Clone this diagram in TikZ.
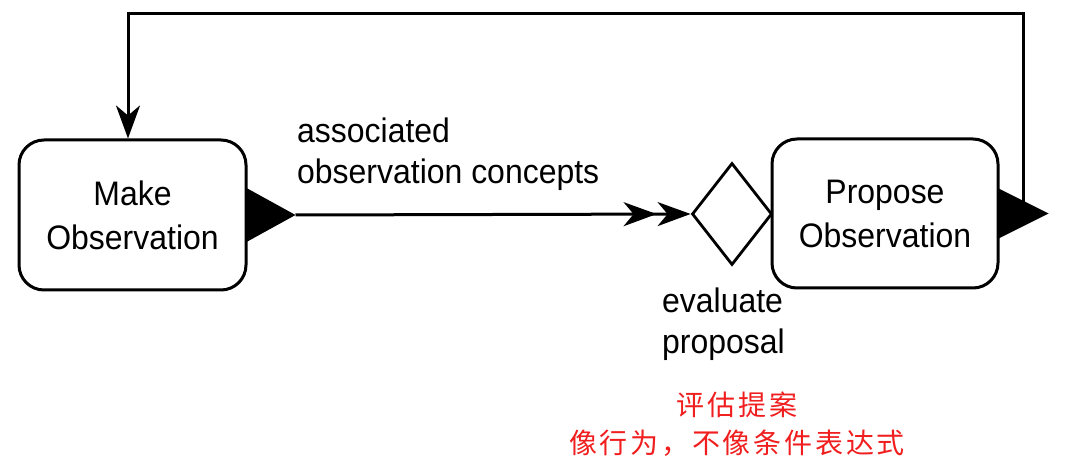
\documentclass[tikz,border=0pt]{standalone}
\usepackage{fontspec}
\setmainfont{Liberation Sans}[FakeStretch=0.94]
\newfontfamily\cjkfont[LetterSpace=10]{Noto Sans CJK SC}
\usetikzlibrary{arrows.meta,shapes.geometric,calc}
\definecolor{notered}{RGB}{240,30,30}
\tikzset{flowtip/.tip={Stealth[length=33pt,width=24pt,inset=10pt]}}
\begin{document}
\begin{tikzpicture}[x=1pt,y=-1pt,
  procbox/.style={draw, line width=3pt, rounded corners=25pt, minimum width=227pt,
    minimum height=150pt, inner sep=0pt, align=center, font=\fontsize{34}{44}\selectfont},
  decision/.style={draw, diamond, line width=2.8pt, minimum width=80pt, minimum height=102pt, inner sep=0pt},
  conn/.style={line width=3pt},
  lbl/.style={inner sep=0pt, align=left, font=\fontsize{34}{41}\selectfont},
  note/.style={inner sep=0pt, align=center, text=notered, font=\cjkfont\fontsize{28}{38}\selectfont}
]
\useasboundingbox (0,0) rectangle (1080,473);

\node[procbox] (make) at (132.5,215) {Make\\Observation};
\node[procbox, minimum width=226pt, minimum height=149pt] (prop) at (885,213.5) {Propose\\Observation};
\node[decision] (dia) at (732,214) {};

% output triangles
\coordinate (mtip) at ($(make.east)+(48,0)$);
\coordinate (ptip) at ($(prop.east)+(49,0)$);
\coordinate (ls) at (1023,205);
\coordinate (top) at (128,14);

% connectors
\draw[conn, -{flowtip[sep=1pt] flowtip}] (mtip) -- (dia.west);
\draw[conn, -{flowtip}] (ls) |- (top) -| ([xshift=-4.5pt]make.north);

\fill ($(make.east)+(-1,-27)$) -- (mtip) -- ($(make.east)+(-1,27)$) -- cycle;
\fill ($(prop.east)+(-1,-25)$) -- (ptip) -- ($(prop.east)+(-1,25)$) -- cycle;

% labels
\node[lbl, anchor=north west] (assoc) at (297,118) {associated\\observation concepts};
\node[lbl, anchor=north west] (evl) at (662,288) {evaluate\\proposal};
\node[note] (cn) at (737,424) {评估提案\\像行为，不像条件表达式};
\end{tikzpicture}
\end{document}
